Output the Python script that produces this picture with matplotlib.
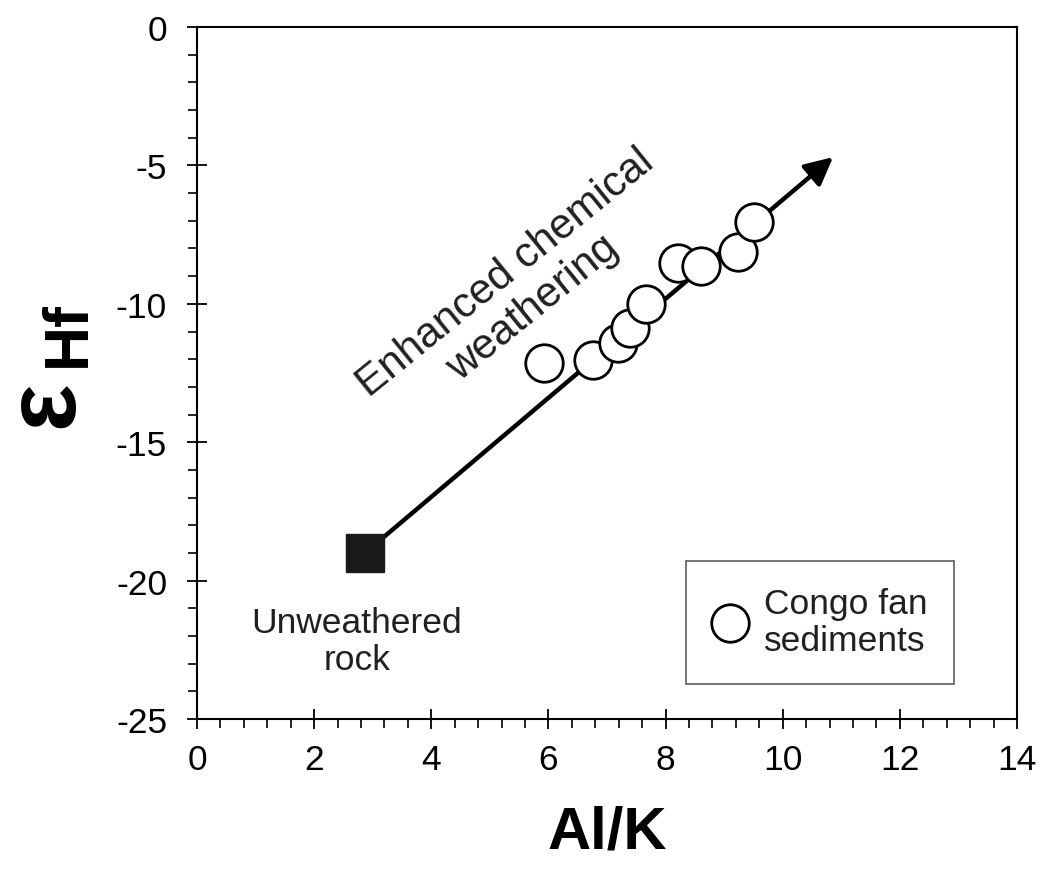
import matplotlib.pyplot as plt
from matplotlib.ticker import MultipleLocator

plt.rcParams['font.family'] = ['Liberation Sans', 'DejaVu Sans']
plt.rcParams['axes.unicode_minus'] = False

# Congo fan sediments (Al/K vs eHf)
al_k = [5.92, 6.77, 7.18, 7.40, 7.66, 8.22, 8.61, 9.23, 9.51]
ehf = [-12.14, -12.02, -11.42, -10.89, -10.01, -8.54, -8.62, -8.12, -7.06]

# unweathered rock end member and arrow tip
rock_x, rock_y = 2.87, -19.0
tip_x, tip_y = 10.86, -4.70

fig = plt.figure(figsize=(10.42, 8.78), dpi=100)
ax = fig.add_axes([0.189, 0.180, 0.787, 0.788])

ax.set_xlim(0, 14)
ax.set_ylim(-25, 0)

# weathering trend arrow (behind the points)
ax.annotate('', xy=(tip_x, tip_y), xytext=(rock_x, rock_y),
            arrowprops=dict(arrowstyle='-|>', lw=3.2, color='black',
                            mutation_scale=42, shrinkA=0, shrinkB=0),
            zorder=1)

ax.plot(al_k, ehf, 'o', ms=27, mfc='white', mec='black', mew=2,
        ls='none', label='Congo fan\nsediments', zorder=3)
ax.plot([rock_x], [rock_y], 's', ms=27, color='#1a1a1a', zorder=4)

ax.text(5.5, -9.5, 'Enhanced chemical\nweathering', fontsize=30.5,
        rotation=39, rotation_mode='anchor', ha='center', va='center',
        linespacing=1.15, color='#231f20')
ax.text(2.73, -22.18, 'Unweathered\nrock', fontsize=25.5, ha='center',
        va='center', linespacing=1.15, color='#231f20')

leg = ax.legend(loc='center', bbox_to_anchor=(0.76, 0.14), fontsize=25.5,
                frameon=True, fancybox=False, edgecolor='#333333',
                borderpad=0.75, handlelength=1.0, handletextpad=0.45,
                labelspacing=0.2, markerscale=1.0)
leg.get_frame().set_linewidth(1.2)
for t in leg.get_texts():
    t.set_color('#231f20')
    t.set_linespacing(1.15)

# ticks
ax.xaxis.set_major_locator(MultipleLocator(2))
ax.xaxis.set_minor_locator(MultipleLocator(0.4))
ax.yaxis.set_major_locator(MultipleLocator(5))
ax.yaxis.set_minor_locator(MultipleLocator(1))
ax.tick_params(axis='both', which='major', direction='inout', length=15,
               width=1.3, labelsize=25.5, top=False, right=False)
ax.tick_params(axis='x', which='major', pad=10)
ax.tick_params(axis='y', which='major', pad=14)
ax.tick_params(axis='both', which='minor', direction='out', length=6.5,
               width=1.2, top=False, right=False)
for s in ax.spines.values():
    s.set_linewidth(1.5)

ax.set_xlabel('Al/K', fontsize=43, fontweight='bold', labelpad=20)

# y label: epsilon with Hf subscript
fig.text(46 / 1042, 1 - 404 / 878, 'ε', fontsize=72, fontweight='bold',
         rotation=90, ha='center', va='center')
fig.text(68 / 1042, 1 - 334 / 878, 'Hf', fontsize=45, fontweight='bold',
         rotation=90, ha='center', va='center')

fig.savefig('out.png', dpi=100)
